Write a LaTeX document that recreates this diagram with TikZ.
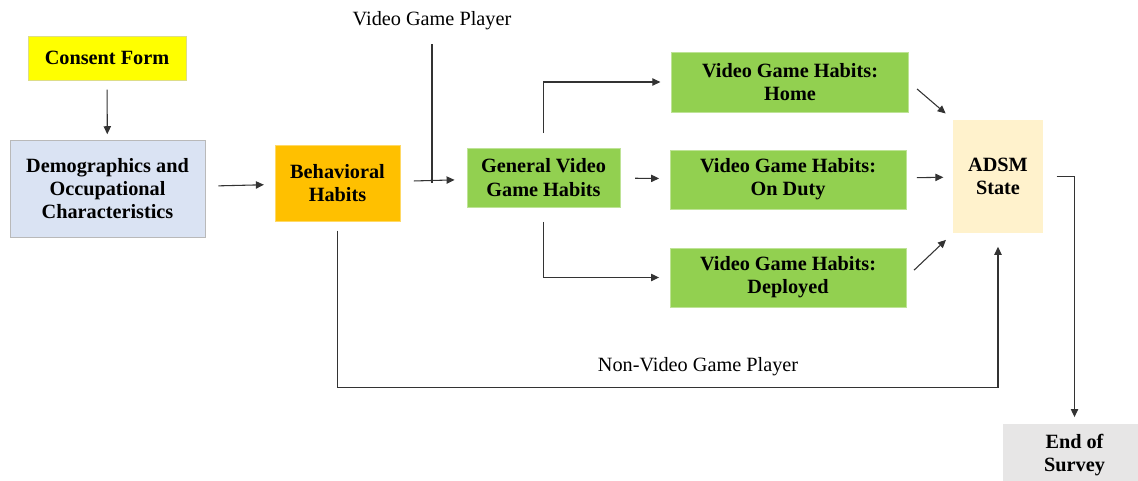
\documentclass[tikz,border=0pt]{standalone}
\usepackage{fontspec}
\setmainfont{Liberation Serif}
\usetikzlibrary{arrows.meta,positioning}
\definecolor{FormYellow}{RGB}{255,255,0}
\definecolor{DemoBlue}{RGB}{218,227,243}
\definecolor{HabitOrange}{RGB}{255,192,0}
\definecolor{GameGreen}{RGB}{146,208,80}
\definecolor{StateCream}{RGB}{255,242,204}
\definecolor{EndGray}{RGB}{231,230,230}

\begin{document}
\begin{tikzpicture}[
    x=0.75pt, y=-0.75pt,
    box/.style={inner sep=0pt, align=center,
                font=\fontsize{15.2}{17.4}\selectfont\bfseries},
    arr/.style={-{Triangle[length=6pt,width=5.5pt]}, line width=0.8pt, draw=black!80},
    line/.style={line width=0.8pt, draw=black!80},
    lbl/.style={font=\fontsize{15.2}{17.4}\selectfont}
]
    \useasboundingbox (0,0) rectangle (1138,480);

    \node[box, fill=FormYellow, draw=FormYellow!55!gray!60, minimum width=118.5pt, minimum height=33pt]
        (consent) at (107,58) {Consent Form};
    \node[box, fill=DemoBlue, draw=gray!55, minimum width=146pt, minimum height=73pt]
        (demo) at (107.5,188.5) {Demographics and\\Occupational\\Characteristics};
    \node[box, fill=HabitOrange, draw=HabitOrange!60, minimum width=94pt, minimum height=57pt]
        (behav) at (337.5,183) {Behavioral\\Habits};
    \node[box, fill=GameGreen, draw=GameGreen!60, minimum width=115pt, minimum height=44pt]
        (general) at (543.5,177.5) {General Video\\Game Habits};
    \node[box, fill=GameGreen, draw=GameGreen!60, minimum width=178pt, minimum height=45pt]
        (home) at (790,82) {Video Game Habits:\\Home};
    \node[box, fill=GameGreen, draw=GameGreen!60, minimum width=177pt, minimum height=44pt]
        (duty) at (788,179.5) {Video Game Habits:\\On Duty};
    \node[box, fill=GameGreen, draw=GameGreen!60, minimum width=177pt, minimum height=44pt]
        (deployed) at (788,277.5) {Video Game Habits:\\Deployed};
    \node[box, fill=StateCream, minimum width=67.5pt, minimum height=85pt]
        (adsm) at (998,176.5) {ADSM\\State};
    \node[box, fill=EndGray, minimum width=107pt, minimum height=46.5pt]
        (survey) at (1074.5,455) {End of\\Survey};

    \node[lbl] (player) at (432,21) {Video Game Player};
    \node[lbl] (nonplayer) at (698,367) {Non-Video Game Player};

    \coordinate (join) at (player |- behav.east);
    \coordinate (turn) at ([yshift=-125pt]behav.south);

    \draw[arr, shorten <=7pt, shorten >=4pt] (consent) -- (demo);
    \draw[arr, shorten <=10pt, shorten >=8pt] (demo) -- (behav);
    \draw[arr, shorten <=10pt, shorten >=9pt] (behav) -- (general);
    \draw[line, shorten <=7pt] (player) -- (join);
    \draw[arr, shorten <=11pt, shorten >=8pt] (general.north) |- (home.west);
    \draw[arr, shorten <=11pt, shorten >=8pt] (general) -- (duty);
    \draw[arr, shorten <=11pt, shorten >=8pt] (general.south) |- (deployed.west);
    \draw[arr, shorten <=8pt, shorten >=7pt] (home.east) -- (adsm.north west);
    \draw[arr, shorten <=8pt, shorten >=7pt] (duty) -- (adsm);
    \draw[arr, shorten <=8pt, shorten >=7pt] (deployed.east) -- (adsm.south west);
    \draw[arr, shorten <=7pt, shorten >=10pt] (behav.south) -- (turn) -| (adsm.south);
    \draw[arr, shorten <=10pt, shorten >=5pt] (adsm.east) -| (survey.north);
\end{tikzpicture}
\end{document}
